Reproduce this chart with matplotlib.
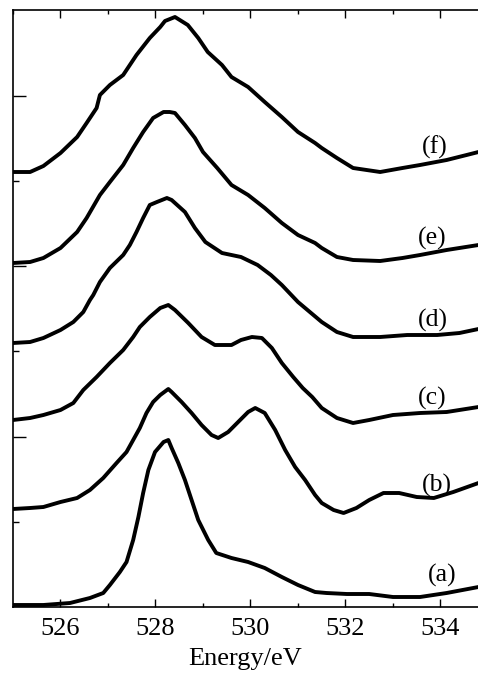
import matplotlib
matplotlib.use("Agg")
import matplotlib.pyplot as plt

# ---- data (energy in eV, intensity in arbitrary units incl. stacking offset) ----
E_a = [525.0, 525.64, 526.2, 526.62, 526.9, 527.04, 527.25, 527.39, 527.53, 527.64, 527.74, 527.85, 527.99,
       528.17, 528.27, 528.34, 528.48, 528.62, 528.76, 528.9, 529.11, 529.28, 529.6, 529.95, 530.3, 530.66,
       531.0, 531.36, 531.6, 532.03, 532.5, 533.0, 533.57, 534.13, 534.8]
I_a = [2, 2, 4, 9, 14, 22, 35, 45, 67, 90, 114, 137, 155,
       165, 167, 159, 144, 127, 107, 87, 67, 54, 49, 45, 39, 30,
       22, 15, 14, 13, 13, 10, 10, 14, 20]

E_b = [525.0, 525.36, 525.64, 526.0, 526.35, 526.62, 526.9, 527.18, 527.39, 527.53, 527.67, 527.81, 527.95,
       528.1, 528.27, 528.34, 528.55, 528.76, 528.97, 529.18, 529.32, 529.53, 529.74, 529.95, 530.1, 530.3,
       530.52, 530.73, 530.94, 531.15, 531.36, 531.5, 531.75, 531.96, 532.23, 532.5, 532.8, 533.13, 533.5,
       533.86, 534.27, 534.8]
I_b = [98, 99, 100, 105, 109, 117, 129, 144, 155, 167, 179, 194, 205,
       212, 218, 215, 205, 194, 182, 172, 169, 175, 185, 195, 199, 194,
       177, 157, 140, 127, 112, 104, 97, 94, 99, 107, 114, 114, 110,
       109, 115, 124]

E_c = [525.0, 525.36, 525.64, 526.0, 526.27, 526.48, 526.76, 527.04, 527.32, 527.53, 527.67, 527.88, 528.1,
       528.27, 528.41, 528.69, 528.97, 529.25, 529.6, 529.8, 530.03, 530.24, 530.45, 530.66, 530.9, 531.1,
       531.3, 531.5, 531.82, 532.16, 532.5, 533.0, 533.57, 534.13, 534.8]
I_c = [187, 189, 192, 197, 204, 217, 230, 244, 257, 270, 280, 290, 299,
       302, 297, 284, 270, 262, 262, 267, 270, 269, 259, 244, 230, 219,
       210, 199, 189, 184, 187, 192, 194, 195, 200]

E_d = [525.0, 525.36, 525.64, 526.0, 526.27, 526.48, 526.62, 526.69, 526.83, 527.04, 527.32, 527.46, 527.6,
       527.74, 527.88, 528.03, 528.24, 528.34, 528.62, 528.83, 529.05, 529.4, 529.8, 530.15, 530.43, 530.66,
       531.0, 531.2, 531.5, 531.82, 532.16, 532.73, 533.3, 533.93, 534.4, 534.8]
I_d = [264, 265, 269, 277, 285, 295, 307, 312, 325, 339, 352, 362, 375,
       389, 402, 405, 409, 407, 395, 379, 365, 354, 350, 342, 332, 322,
       305, 297, 285, 275, 270, 270, 272, 272, 274, 278]

E_e = [525.0, 525.36, 525.64, 526.0, 526.35, 526.55, 526.83, 527.04, 527.32, 527.53, 527.74, 527.95, 528.17,
       528.3, 528.41, 528.62, 528.83, 529.0, 529.3, 529.6, 529.95, 530.3, 530.66, 531.0, 531.36, 531.5,
       531.82, 532.16, 532.73, 533.2, 533.57, 534.13, 534.8]
I_e = [344, 345, 349, 359, 375, 389, 412, 425, 442, 459, 475, 489, 495,
       495, 494, 482, 469, 455, 439, 422, 412, 399, 384, 372, 364, 359,
       350, 347, 346, 349, 352, 357, 362]

E_f = [525.0, 525.36, 525.64, 526.0, 526.35, 526.55, 526.76, 526.83, 527.04, 527.32, 527.6, 527.88, 528.1,
       528.2, 528.41, 528.68, 528.9, 529.1, 529.4, 529.6, 529.95, 530.3, 530.66, 531.0, 531.36, 531.5,
       531.82, 532.16, 532.73, 533.2, 533.57, 534.13, 534.55, 534.8]
I_f = [435, 435, 441, 454, 470, 484, 499, 512, 522, 532, 552, 569, 580,
       586, 590, 582, 569, 555, 542, 530, 520, 505, 490, 475, 464, 459,
       449, 439, 435, 439, 442, 447, 452, 455]

labels = ["(a)", "(b)", "(c)", "(d)", "(e)", "(f)"]
label_E = [534.03, 533.93, 533.82, 533.84, 533.82, 533.88]
label_I = [32, 122, 209, 287, 369, 460]

x_major = [526, 528, 530, 532, 534]
x_minor = [525, 527, 529, 531, 533]
y_major = [170.4, 340.8, 511.2]
y_minor = [85.2, 255.6, 426.0]

# ---- figure ----
serif = ["Liberation Serif", "DejaVu Serif"]
plt.rcParams["font.family"] = serif

fig = plt.figure(figsize=(4.78, 6.74), dpi=100)
ax = fig.add_axes([13 / 478, 1 - 607 / 674, 1 - 13 / 478, (607 - 10) / 674])

for E, I in [(E_a, I_a), (E_b, I_b), (E_c, I_c), (E_d, I_d), (E_e, I_e), (E_f, I_f)]:
    ax.plot(E, I, color="black", lw=2.8, solid_capstyle="round", solid_joinstyle="round")

for t, x, y in zip(labels, label_E, label_I):
    ax.text(x, y, t, fontsize=18.5, ha="center", va="center")

ax.set_xlim(525.0, 534.79)
ax.set_ylim(0, 597)

ax.set_xticks(x_major)
ax.set_xticks(x_minor, minor=True)
ax.set_yticks(y_major)
ax.set_yticks(y_minor, minor=True)
ax.set_yticklabels([])

ax.tick_params(axis="x", which="major", direction="in", length=6, width=1.0, top=True,
               labelsize=19, pad=8)
ax.tick_params(axis="x", which="minor", direction="in", length=3, width=1.0, top=True)
ax.tick_params(axis="y", which="major", direction="in", length=9, width=1.0, left=True)
ax.tick_params(axis="y", which="minor", direction="in", length=4, width=1.0, left=True)

ax.spines["right"].set_visible(False)
for s in ["left", "top", "bottom"]:
    ax.spines[s].set_linewidth(1.2)

ax.set_xlabel("Energy/eV", fontsize=19, labelpad=6)

fig.savefig("out.png", dpi=100)
